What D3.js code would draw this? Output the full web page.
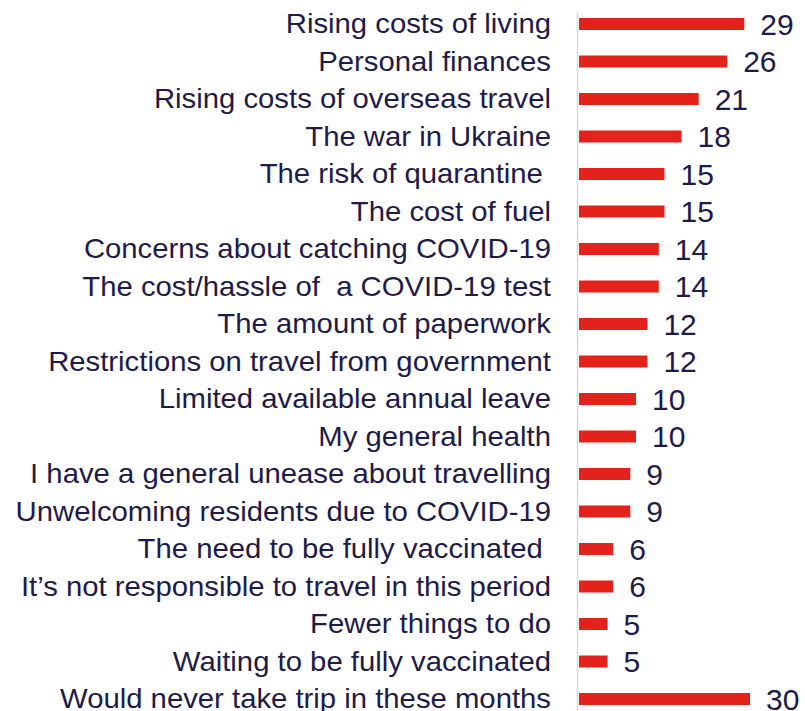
<!DOCTYPE html>
<html>
<head>
<meta charset="utf-8">
<script src="https://cdn.jsdelivr.net/npm/d3@7"></script>
<style>
  html, body { margin: 0; padding: 0; background: #ffffff; }
  svg { display: block; }
  text { font-family: "Liberation Sans", Arial, sans-serif; }
</style>
</head>
<body>
<svg id="chart" width="805" height="711"></svg>
<script>
const categories = [
  "Rising costs of living",
  "Personal finances",
  "Rising costs of overseas travel",
  "The war in Ukraine",
  "The risk of quarantine ",
  "The cost of fuel",
  "Concerns about catching COVID-19",
  "The cost/hassle of  a COVID-19 test",
  "The amount of paperwork",
  "Restrictions on travel from government",
  "Limited available annual leave",
  "My general health",
  "I have a general unease about travelling",
  "Unwelcoming residents due to COVID-19",
  "The need to be fully vaccinated ",
  "It\u2019s not responsible to travel in this period",
  "Fewer things to do",
  "Waiting to be fully vaccinated",
  "Would never take trip in these months"
];
const values = [29, 26, 21, 18, 15, 15, 14, 14, 12, 12, 10, 10, 9, 9, 6, 6, 5, 5, 30];

const svg = d3.select("#chart");
const textColor = "#1e1b4b";
const barColor = "#e3221c";

const x = d3.scaleLinear().domain([0, 30]).range([579, 750]);
const y = d3.scaleBand().domain(categories).range([5.25, 717.75]).paddingInner(0.68).paddingOuter(0.34);

// axis line
svg.append("line")
  .attr("x1", 577.5).attr("x2", 577.5)
  .attr("y1", 12).attr("y2", 711)
  .attr("stroke", "#d9d9d9").attr("stroke-width", 1.5);

// bars
svg.selectAll("rect.bar").data(categories).join("rect")
  .attr("class", "bar")
  .attr("x", x(0))
  .attr("y", d => y(d))
  .attr("width", (d, i) => x(values[i]) - x(0))
  .attr("height", y.bandwidth())
  .attr("fill", barColor);

// category labels
svg.selectAll("text.cat").data(categories).join("text")
  .attr("class", "cat")
  .attr("transform", d => `translate(551,${y(d) + y.bandwidth() / 2}) scale(1.085,1)`)
  .attr("dy", "0.34em")
  .attr("text-anchor", "end")
  .attr("font-size", 27)
  .attr("fill", textColor)
  .style("white-space", "pre")
  .text(d => d);

// value labels
svg.selectAll("text.val").data(categories).join("text")
  .attr("class", "val")
  .attr("x", (d, i) => x(values[i]) + 16)
  .attr("y", d => y(d) + y.bandwidth() / 2)
  .attr("dy", "0.36em")
  .attr("font-size", 30)
  .attr("fill", textColor)
  .text((d, i) => values[i]);
</script>
</body>
</html>
